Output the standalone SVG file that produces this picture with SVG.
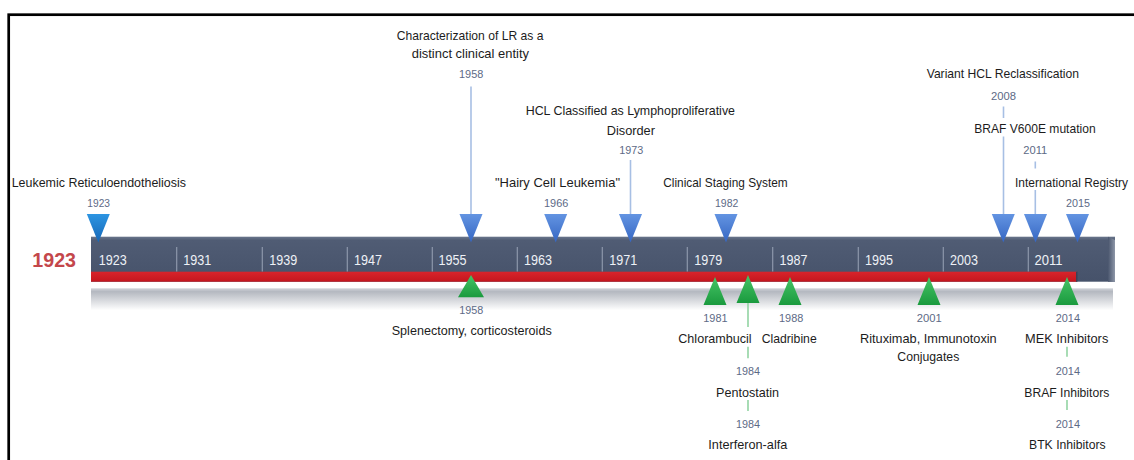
<svg xmlns="http://www.w3.org/2000/svg" width="1134" height="460" viewBox="0 0 1134 460">
<defs>
<style>
text{font-family:"Liberation Sans",Arial,sans-serif}
.lbl{font-size:13.5px;fill:#1c1c1c}
.yr{font-size:11.5px;fill:#5d6a86}
.tk{font-size:14px;fill:#eef1f6}
.big{font-size:20.5px;font-weight:bold;fill:#c4474b}
.bl{stroke:#a7bfe4;stroke-width:1.6;fill:none}
.gl{stroke:#92d4a2;stroke-width:1.6;fill:none}
.dv{stroke:#8d97ab;stroke-width:1.2}
</style>
<linearGradient id="gBar" x1="0" y1="0" x2="0" y2="1">
<stop offset="0" stop-color="#6a768c"/>
<stop offset="0.08" stop-color="#505c74"/>
<stop offset="1" stop-color="#46526a"/>
</linearGradient>
<linearGradient id="gEnd" x1="0" y1="0" x2="1" y2="0">
<stop offset="0" stop-color="#4a566e"/>
<stop offset="1" stop-color="#8e97a8"/>
</linearGradient>
<linearGradient id="gRed" x1="0" y1="0" x2="0" y2="1">
<stop offset="0" stop-color="#d8242b"/>
<stop offset="1" stop-color="#c4161e"/>
</linearGradient>
<linearGradient id="gSh" x1="0" y1="0" x2="0" y2="1">
<stop offset="0" stop-color="#d2d5db"/>
<stop offset="0.15" stop-color="#b4b8c0"/>
<stop offset="1" stop-color="#ffffff"/>
</linearGradient>
<linearGradient id="gBlue" x1="0" y1="0" x2="0" y2="1">
<stop offset="0" stop-color="#6394e2"/>
<stop offset="1" stop-color="#3566c2"/>
</linearGradient>
<linearGradient id="gBlue0" x1="0" y1="0" x2="0" y2="1">
<stop offset="0" stop-color="#2d95e2"/>
<stop offset="1" stop-color="#1566b6"/>
</linearGradient>
<linearGradient id="gGreen" x1="0" y1="0" x2="0" y2="1">
<stop offset="0" stop-color="#46c466"/>
<stop offset="1" stop-color="#1a9a3e"/>
</linearGradient>
<path id="down" d="M-11.5,0 L11.5,0 L0,28.5 Z"/>
<path id="up" d="M0,0 L11.5,28 L-11.5,28 Z"/>
</defs>

<rect x="0" y="0" width="1134" height="460" fill="#ffffff"/>
<rect x="8.7" y="14.7" width="1200" height="500" fill="none" stroke="#000" stroke-width="2.7"/>

<g id="timeline-bar">
<rect x="91" y="288.3" width="1022" height="22" fill="url(#gSh)"/>
<rect x="91" y="236.7" width="1024" height="45" fill="url(#gBar)"/>
<path d="M1108,236.7 L1115,240 L1115,281.7 L1108,281.7 Z" fill="url(#gEnd)"/>
<rect x="91" y="271.7" width="986" height="10" fill="url(#gRed)"/>
<rect x="1076" y="271.7" width="1.5" height="10" fill="#3a4256"/>
<line class="dv" x1="176.7" y1="247" x2="176.7" y2="271.5"/>
<line class="dv" x1="262.3" y1="247" x2="262.3" y2="271.5"/>
<line class="dv" x1="347.3" y1="247" x2="347.3" y2="271.5"/>
<line class="dv" x1="432.3" y1="247" x2="432.3" y2="271.5"/>
<line class="dv" x1="517.3" y1="247" x2="517.3" y2="271.5"/>
<line class="dv" x1="602.3" y1="247" x2="602.3" y2="271.5"/>
<line class="dv" x1="687.3" y1="247" x2="687.3" y2="271.5"/>
<line class="dv" x1="772.7" y1="247" x2="772.7" y2="271.5"/>
<line class="dv" x1="858.3" y1="247" x2="858.3" y2="271.5"/>
<line class="dv" x1="943.3" y1="247" x2="943.3" y2="271.5"/>
<line class="dv" x1="1028.3" y1="247" x2="1028.3" y2="271.5"/>
<text class="tk" x="98.7" y="265" textLength="28" lengthAdjust="spacingAndGlyphs">1923</text>
<text class="tk" x="183.3" y="265" textLength="28" lengthAdjust="spacingAndGlyphs">1931</text>
<text class="tk" x="269.3" y="265" textLength="28" lengthAdjust="spacingAndGlyphs">1939</text>
<text class="tk" x="354" y="265" textLength="28" lengthAdjust="spacingAndGlyphs">1947</text>
<text class="tk" x="438.5" y="265" textLength="28" lengthAdjust="spacingAndGlyphs">1955</text>
<text class="tk" x="524" y="265" textLength="28" lengthAdjust="spacingAndGlyphs">1963</text>
<text class="tk" x="609.3" y="265" textLength="28" lengthAdjust="spacingAndGlyphs">1971</text>
<text class="tk" x="694.3" y="265" textLength="28" lengthAdjust="spacingAndGlyphs">1979</text>
<text class="tk" x="779.5" y="265" textLength="28" lengthAdjust="spacingAndGlyphs">1987</text>
<text class="tk" x="865" y="265" textLength="28" lengthAdjust="spacingAndGlyphs">1995</text>
<text class="tk" x="950" y="265" textLength="28" lengthAdjust="spacingAndGlyphs">2003</text>
<text class="tk" x="1034.5" y="265" textLength="28" lengthAdjust="spacingAndGlyphs">2011</text>
</g>

<g id="current-year">
<text class="big" x="32.3" y="267.3" textLength="43.7" lengthAdjust="spacingAndGlyphs">1923</text>
</g>

<g id="connectors">
<line class="bl" x1="471" y1="86.5" x2="471" y2="214"/>
<line class="bl" x1="630.5" y1="160" x2="630.5" y2="214"/>
<line class="bl" x1="1003.5" y1="106.5" x2="1003.5" y2="118"/>
<line class="bl" x1="1003.5" y1="136.5" x2="1003.5" y2="214"/>
<line class="bl" x1="1035.3" y1="161.5" x2="1035.3" y2="168.5"/>
<line class="bl" x1="1035.3" y1="190" x2="1035.3" y2="214"/>
<line class="gl" x1="748" y1="303" x2="748" y2="327"/>
<line class="gl" x1="748" y1="346.7" x2="748" y2="358.3"/>
<line class="gl" x1="748" y1="400" x2="748" y2="411"/>
<line class="gl" x1="1067" y1="346.7" x2="1067" y2="356.7"/>
<line class="gl" x1="1067" y1="400" x2="1067" y2="410"/>
</g>

<g id="ev-1923">
<text class="lbl" x="11.7" y="186.7" textLength="174.3" lengthAdjust="spacingAndGlyphs">Leukemic Reticuloendotheliosis</text>
<text class="yr" x="87.3" y="206.5" textLength="22.7" lengthAdjust="spacingAndGlyphs">1923</text>
<use href="#down" x="98.3" y="214" fill="url(#gBlue0)"/>
</g>
<g id="ev-1958-top">
<text class="lbl" x="396.7" y="40" textLength="146.7" lengthAdjust="spacingAndGlyphs">Characterization of LR as a</text>
<text class="lbl" x="411.7" y="58" textLength="117.3" lengthAdjust="spacingAndGlyphs">distinct clinical entity</text>
<text class="yr" x="459" y="78" textLength="24.3" lengthAdjust="spacingAndGlyphs">1958</text>
<use href="#down" x="471" y="214" fill="url(#gBlue)"/>
</g>
<g id="ev-1966">
<text class="lbl" x="495" y="186.7" textLength="125" lengthAdjust="spacingAndGlyphs">"Hairy Cell Leukemia"</text>
<text class="yr" x="544" y="206.5" textLength="24.3" lengthAdjust="spacingAndGlyphs">1966</text>
<use href="#down" x="555.7" y="214" fill="url(#gBlue)"/>
</g>
<g id="ev-1973">
<text class="lbl" x="525.7" y="115" textLength="209.3" lengthAdjust="spacingAndGlyphs">HCL Classified as Lymphoproliferative</text>
<text class="lbl" x="606.7" y="135" textLength="48.3" lengthAdjust="spacingAndGlyphs">Disorder</text>
<text class="yr" x="619.3" y="154" textLength="24" lengthAdjust="spacingAndGlyphs">1973</text>
<use href="#down" x="630.5" y="214" fill="url(#gBlue)"/>
</g>
<g id="ev-1982">
<text class="lbl" x="663.3" y="186.7" textLength="124.4" lengthAdjust="spacingAndGlyphs">Clinical Staging System</text>
<text class="yr" x="715" y="206.5" textLength="23.3" lengthAdjust="spacingAndGlyphs">1982</text>
<use href="#down" x="726" y="214" fill="url(#gBlue)"/>
</g>
<g id="ev-2008">
<text class="lbl" x="926.7" y="78.3" textLength="152.3" lengthAdjust="spacingAndGlyphs">Variant HCL Reclassification</text>
<text class="yr" x="991" y="100" textLength="25" lengthAdjust="spacingAndGlyphs">2008</text>
<use href="#down" x="1003.3" y="214" fill="url(#gBlue)"/>
</g>
<g id="ev-2011">
<text class="lbl" x="974.3" y="133.3" textLength="121.3" lengthAdjust="spacingAndGlyphs">BRAF V600E mutation</text>
<text class="yr" x="1023.3" y="154" textLength="24" lengthAdjust="spacingAndGlyphs">2011</text>
<use href="#down" x="1035.5" y="214" fill="url(#gBlue)"/>
</g>
<g id="ev-2015">
<text class="lbl" x="1015" y="186.7" style="font-size:12.5px" textLength="113" lengthAdjust="spacingAndGlyphs">International Registry</text>
<text class="yr" x="1066" y="206.5" textLength="24" lengthAdjust="spacingAndGlyphs">2015</text>
<use href="#down" x="1077.5" y="214" fill="url(#gBlue)"/>
</g>

<g id="tx-1958">
<path d="M471,275 L484,297.3 L458,297.3 Z" fill="url(#gGreen)"/>
<text class="yr" x="459.3" y="314" textLength="24" lengthAdjust="spacingAndGlyphs">1958</text>
<text class="lbl" x="391.7" y="335" textLength="160" lengthAdjust="spacingAndGlyphs">Splenectomy, corticosteroids</text>
</g>
<g id="tx-1981">
<use href="#up" x="715" y="277" fill="url(#gGreen)"/>
<text class="yr" x="703.3" y="321.5" textLength="24.3" lengthAdjust="spacingAndGlyphs">1981</text>
<text class="lbl" x="678.3" y="343" textLength="73.3" lengthAdjust="spacingAndGlyphs">Chlorambucil</text>
</g>
<g id="tx-1984">
<use href="#up" x="748" y="275" fill="url(#gGreen)"/>
<text class="yr" x="736" y="375" textLength="24" lengthAdjust="spacingAndGlyphs">1984</text>
<text class="lbl" x="716" y="396.5" textLength="63" lengthAdjust="spacingAndGlyphs">Pentostatin</text>
</g>
<g id="tx-1984b">
<text class="yr" x="736" y="428" textLength="24" lengthAdjust="spacingAndGlyphs">1984</text>
<text class="lbl" x="708.3" y="448.5" textLength="79" lengthAdjust="spacingAndGlyphs">Interferon-alfa</text>
</g>
<g id="tx-1988">
<use href="#up" x="790" y="277" fill="url(#gGreen)"/>
<text class="yr" x="779" y="321.5" textLength="24.3" lengthAdjust="spacingAndGlyphs">1988</text>
<text class="lbl" x="761.7" y="343" textLength="55" lengthAdjust="spacingAndGlyphs">Cladribine</text>
</g>
<g id="tx-2001">
<use href="#up" x="929" y="277" fill="url(#gGreen)"/>
<text class="yr" x="916.7" y="321.5" textLength="25" lengthAdjust="spacingAndGlyphs">2001</text>
<text class="lbl" x="860" y="343" textLength="136.7" lengthAdjust="spacingAndGlyphs">Rituximab, Immunotoxin</text>
<text class="lbl" x="897.3" y="360.5" textLength="62" lengthAdjust="spacingAndGlyphs">Conjugates</text>
</g>
<g id="tx-2014">
<use href="#up" x="1067" y="277" fill="url(#gGreen)"/>
<text class="yr" x="1055.7" y="321.5" textLength="24.3" lengthAdjust="spacingAndGlyphs">2014</text>
<text class="lbl" x="1025" y="343" textLength="83.3" lengthAdjust="spacingAndGlyphs">MEK Inhibitors</text>
</g>
<g id="tx-2014b">
<text class="yr" x="1055.7" y="375" textLength="24.3" lengthAdjust="spacingAndGlyphs">2014</text>
<text class="lbl" x="1024.3" y="396.5" textLength="85" lengthAdjust="spacingAndGlyphs">BRAF Inhibitors</text>
</g>
<g id="tx-2014c">
<text class="yr" x="1055.7" y="428" textLength="24.3" lengthAdjust="spacingAndGlyphs">2014</text>
<text class="lbl" x="1029" y="448.5" textLength="76.7" lengthAdjust="spacingAndGlyphs">BTK Inhibitors</text>
</g>
</svg>
